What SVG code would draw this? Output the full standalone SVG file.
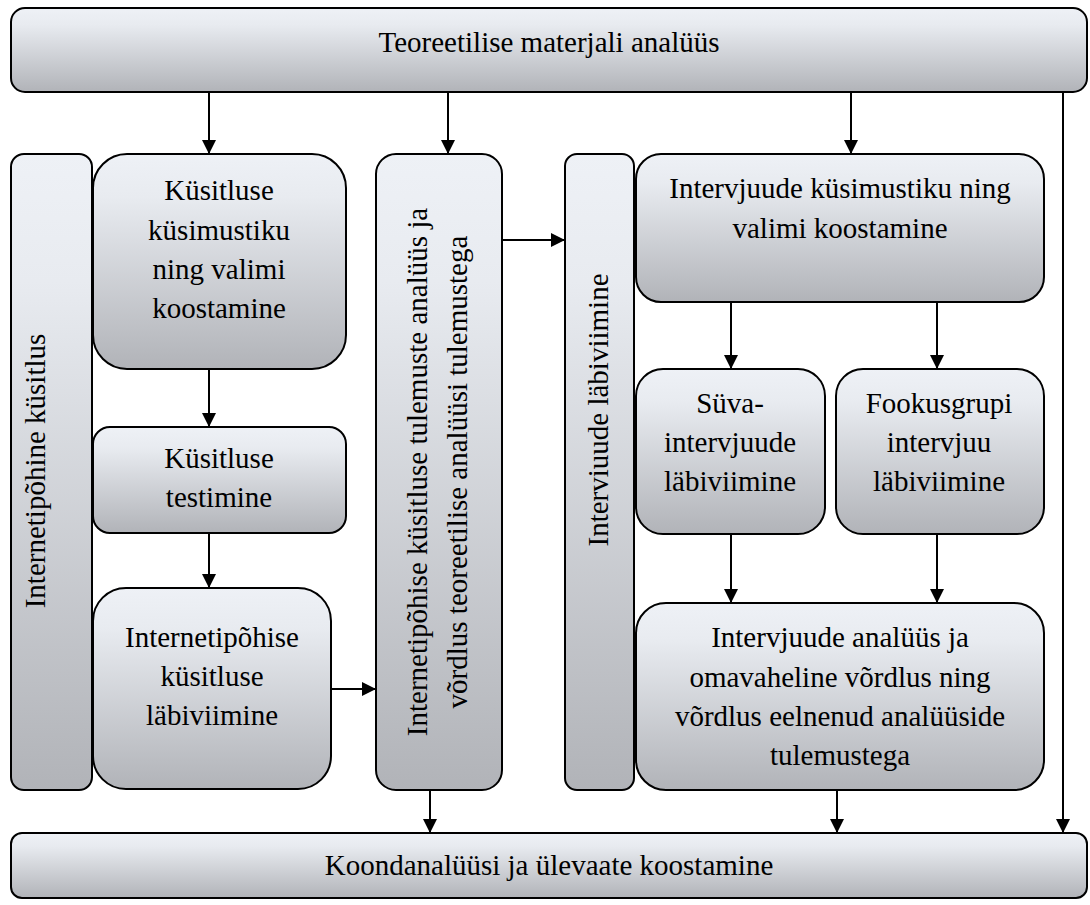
<svg xmlns="http://www.w3.org/2000/svg" width="1090" height="905" viewBox="0 0 1090 905">
<style>
.box{stroke:#000;stroke-width:2;fill:url(#g)}
.t{font-family:"Liberation Serif","Times New Roman",serif;font-size:29px;fill:#000;text-anchor:middle}
.c{stroke:#000;stroke-width:2;fill:none;marker-end:url(#ah)}
</style>
<defs>
<linearGradient id="g" x1="0" y1="0" x2="0" y2="1">
<stop offset="0" stop-color="#eef1f6"/>
<stop offset="0.2" stop-color="#e8ebf0"/>
<stop offset="1" stop-color="#b1b3b8"/>
</linearGradient>
<marker id="ah" markerWidth="14" markerHeight="14" refX="14" refY="7" orient="auto" markerUnits="userSpaceOnUse">
<path d="M0,0 L14,7 L0,14 z" fill="#000"/>
</marker>
</defs>
<rect width="1090" height="905" fill="#fff"/>
<g id="top"><rect class="box" x="11" y="8" width="1076" height="84" rx="14"/><text class="t" x="549" y="52">Teoreetilise materjali analüüs</text></g>
<g id="col-internet"><rect class="box" x="11" y="154" width="81" height="636" rx="13"/><text class="t" transform="translate(45,471) rotate(-90)">Internetipõhine küsitlus</text></g>
<g id="kusimustik"><rect class="box" x="93" y="154" width="253" height="215" rx="34"/>
<text class="t" x="219" y="200">Küsitluse</text><text class="t" x="219" y="240">küsimustiku</text><text class="t" x="219" y="279">ning valimi</text><text class="t" x="219" y="318">koostamine</text></g>
<g id="testimine"><rect class="box" x="93" y="427" width="253" height="106" rx="17"/>
<text class="t" x="219" y="468">Küsitluse</text><text class="t" x="219" y="507">testimine</text></g>
<g id="labiviimine"><rect class="box" x="93" y="588" width="238" height="201" rx="33"/>
<text class="t" x="212" y="647">Internetipõhise</text><text class="t" x="212" y="686">küsitluse</text><text class="t" x="212" y="725">läbiviimine</text></g>
<g id="tulemused"><rect class="box" x="376" y="154" width="126" height="636" rx="20"/>
<text class="t" transform="translate(427,472) rotate(-90)">Internetipõhise küsitluse tulemuste analüüs ja</text>
<text class="t" transform="translate(467,472) rotate(-90)">võrdlus teoreetilise analüüsi tulemustega</text></g>
<g id="col-intervjuu"><rect class="box" x="565" y="154" width="69" height="636" rx="12"/><text class="t" transform="translate(608,410) rotate(-90)">Interviuude läbiviimine</text></g>
<g id="intervjuu-kusimustik"><rect class="box" x="636" y="154" width="408" height="148" rx="25"/>
<text class="t" x="840" y="198">Intervjuude küsimustiku ning</text><text class="t" x="840" y="238">valimi koostamine</text></g>
<g id="suva"><rect class="box" x="636" y="369" width="189" height="165" rx="27"/>
<text class="t" x="730" y="413">Süva-</text><text class="t" x="730" y="452">intervjuude</text><text class="t" x="730" y="491">läbiviimine</text></g>
<g id="fookus"><rect class="box" x="836" y="369" width="208" height="165" rx="27"/>
<text class="t" x="939" y="413">Fookusgrupi</text><text class="t" x="939" y="452">intervjuu</text><text class="t" x="939" y="491">läbiviimine</text></g>
<g id="analuus"><rect class="box" x="636" y="603" width="408" height="187" rx="30"/>
<text class="t" x="840" y="647">Intervjuude analüüs ja</text><text class="t" x="840" y="687">omavaheline võrdlus ning</text><text class="t" x="840" y="726">võrdlus eelnenud analüüside</text><text class="t" x="840" y="765">tulemustega</text></g>
<g id="bottom"><rect class="box" x="11" y="833" width="1076" height="65" rx="11"/><text class="t" x="549" y="875">Koondanalüüsi ja ülevaate koostamine</text></g>
<g id="connectors">
<path class="c" d="M209,92 V154"/>
<path class="c" d="M448,92 V154"/>
<path class="c" d="M851,92 V154"/>
<path class="c" d="M1063,92 V833"/>
<path class="c" d="M209,369 V427"/>
<path class="c" d="M209,533 V588"/>
<path class="c" d="M331,689 H376"/>
<path class="c" d="M502,240 H565"/>
<path class="c" d="M731,302 V369"/>
<path class="c" d="M937,302 V369"/>
<path class="c" d="M731,534 V603"/>
<path class="c" d="M937,534 V603"/>
<path class="c" d="M430,790 V833"/>
<path class="c" d="M837,790 V833"/>
</g>
</svg>
